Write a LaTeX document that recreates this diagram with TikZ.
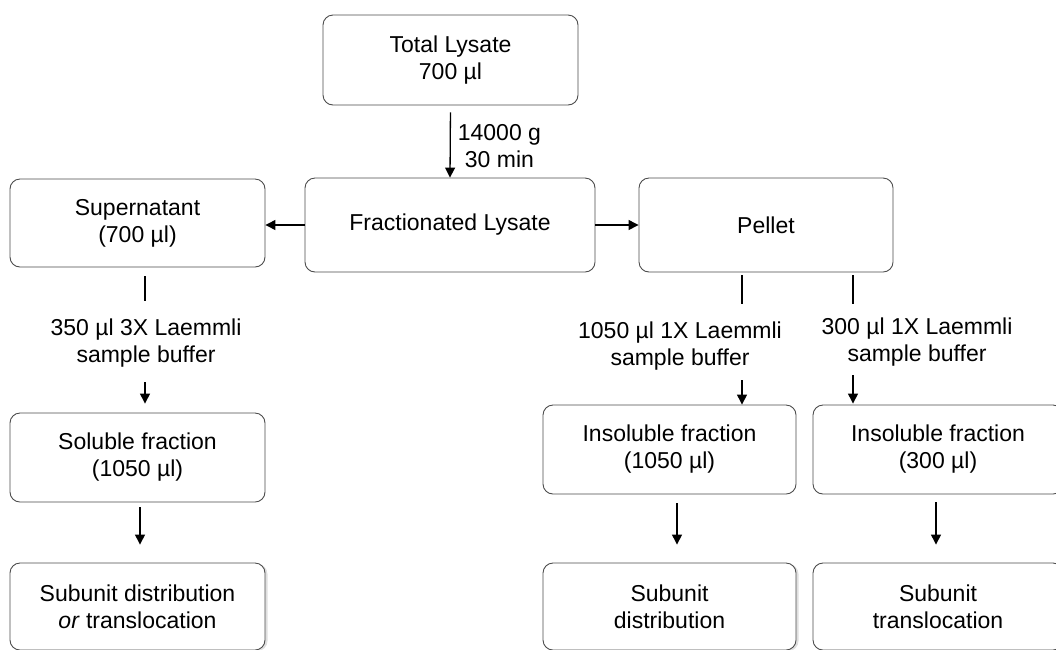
\documentclass[tikz,border=0pt]{standalone}
\usepackage{fontspec}
\setmainfont{Liberation Sans}
\usetikzlibrary{arrows.meta}
\usetikzlibrary{shadows}

\tikzset{
  flowbox/.style={draw=black!70, line width=0.9pt, rounded corners=10pt, fill=white, align=center, inner sep=0pt, minimum width=254pt, minimum height=89pt},
  endbox/.style={flowbox, drop shadow={shadow xshift=2.5pt, shadow yshift=-1pt, opacity=0.25}},
  flowarrow/.style={line width=1.3pt, -{Triangle[length=10pt,width=10pt]}},
  flowline/.style={line width=1.3pt},
  buffertext/.style={align=center, inner sep=0pt}
}

\begin{document}
\begin{tikzpicture}[x=1pt, y=-1pt, font=\fontsize{23}{27}\selectfont]
        \useasboundingbox (0,0) rectangle (1056,649);
        \clip (0,0) rectangle (1056,649);

        \node[flowbox, minimum width=255pt, minimum height=90pt] (total) at (450.5,60) {Total Lysate\\700 µl};
        \node[flowbox, minimum width=290pt, minimum height=94pt] (frac) at (450,225) {Fractionated Lysate};
        \node[flowbox, minimum width=255pt, minimum height=88pt] (super) at (137.5,223) {Supernatant\\(700 µl)};
        \node[flowbox, minimum height=94pt] (pellet) at (766,225) {Pellet};

        \node[buffertext] (buf3x) at (146,343) {350 µl 3X Laemmli\\sample buffer};
        \node[buffertext] (buf1050) at (680,346) {1050 µl 1X Laemmli\\sample buffer};
        \node[buffertext] (buf300) at (917,342) {300 µl 1X Laemmli\\sample buffer};

        \node[flowbox, minimum width=255pt] (soluble) at (137.5,457.5) {Soluble fraction\\(1050 µl)};
        \node[flowbox, minimum width=253pt] (insol1050) at (669.5,449.5) {Insoluble fraction\\(1050 µl)};
        \node[flowbox, minimum width=250pt] (insol300) at (938,449.5) {Insoluble fraction\\(300 µl)};

        \node[endbox, minimum width=255pt, minimum height=87pt] (sub1) at (137.5,606.5) {Subunit distribution\\\textit{or} translocation};
        \node[endbox, minimum width=253pt, minimum height=87pt] (sub2) at (669.5,606.5) {Subunit\\distribution};
        \node[endbox, minimum width=250pt, minimum height=87pt] (sub3) at (938,606.5) {Subunit\\translocation};

        \coordinate (colA) at (145,0);
        \coordinate (colB) at (742,0);
        \coordinate (colC) at (853,0);
        \coordinate (colD) at (677,0);
        \coordinate (colE) at (140,0);
        \coordinate (colF) at (936,0);

        \draw[flowarrow, shorten <=7pt] (total.south) -- (frac.north) node[pos=0.57, right, align=center, inner sep=7pt] {14000 g\\30 min};
        \draw[flowarrow] (frac.east) -- (pellet.west);
        \draw[flowarrow] (frac.west) -- (frac.west -| super.east);

        \draw[flowline, shorten <=9pt, shorten >=18pt] (super.south -| colA) -- (buf3x.north -| colA);
        \draw[flowarrow, shorten <=15pt, shorten >=9pt] (buf3x.south -| colA) -- (soluble.north -| colA);
        \draw[flowline, shorten <=3pt, shorten >=18pt] (pellet.south -| colB) -- (buf1050.north -| colB);
        \draw[flowarrow, shorten <=10pt] (buf1050.south -| colB) -- (insol1050.north -| colB);
        \draw[flowline, shorten <=3pt, shorten >=14pt] (pellet.south -| colC) -- (buf300.north -| colC);
        \draw[flowarrow, shorten <=9pt, shorten >=1pt] (buf300.south -| colC) -- (insol300.north -| colC);

        \draw[flowarrow, shorten <=5pt, shorten >=18pt] (soluble.south -| colE) -- (sub1.north -| colE);
        \draw[flowarrow, shorten <=9pt, shorten >=18pt] (insol1050.south -| colD) -- (sub2.north -| colD);
        \draw[flowarrow, shorten <=8pt, shorten >=18pt] (insol300.south -| colF) -- (sub3.north -| colF);
    \end{tikzpicture}
\end{document}
